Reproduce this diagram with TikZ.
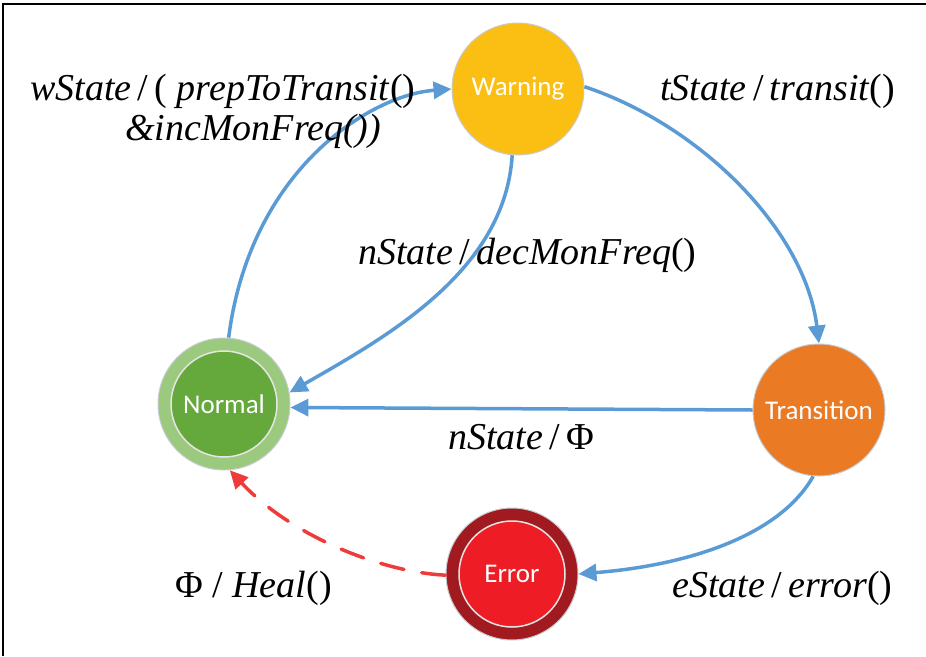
\documentclass[tikz,border=0pt]{standalone}
\usepackage{fontspec}
\setmainfont{Liberation Serif}
\newfontfamily\nodefont{Carlito}
\newfontfamily\lblfont{Liberation Serif}
\usetikzlibrary{arrows.meta}
\definecolor{warnc}{HTML}{FBBF14}
\definecolor{transc}{HTML}{EA7A24}
\definecolor{normout}{HTML}{9BC97D}
\definecolor{normin}{HTML}{65A83C}
\definecolor{errout}{HTML}{A01A1F}
\definecolor{errin}{HTML}{EE1C25}
\definecolor{arrowblue}{HTML}{5B9BD5}
\definecolor{healred}{HTML}{EE3B3B}
\definecolor{rimgray}{HTML}{C8CCD2}
\tikzset{
  statecirc/.style={circle, inner sep=0pt, minimum size=132pt, draw=rimgray, line width=1pt},
  innercirc/.style={circle, inner sep=0pt, minimum size=106pt, draw=white!80!gray, line width=1.5pt,
    text=white, font=\nodefont\fontsize{27}{30}\selectfont},
  statetext/.style={text=white, font=\nodefont\fontsize{27}{30}\selectfont},
  flow/.style={draw=arrowblue, line width=3.5pt, -{Triangle[length=18pt,width=17pt]}},
  heal/.style={draw=healred, line width=3.5pt, dash pattern=on 24pt off 18pt, line cap=round,
    -{Triangle[length=18pt,width=17pt]}},
  lbl/.style={font=\lblfont\fontsize{38}{42}\selectfont, inner sep=0pt, anchor=base west}
}
\begin{document}
\begin{tikzpicture}[x=1pt,y=-1pt]
\useasboundingbox (0,0) rectangle (926,656);
\coordinate (fb) at (3,656);
\coordinate (fc) at (3,4);
\coordinate (fr) at (926,4);
\draw[line width=1.5pt] (fb) -- (fc) -- (fr);

% states
\node[statecirc, fill=warnc, statetext] (w) at (518,89) {Warning};
\node[statecirc, fill=transc, statetext] (t) at (819,410) {Transition};
\node[statecirc, fill=normout] (n) at (224,404) {};
\node[innercirc, fill=normin] (ni) at (224,404) {Normal};
\node[statecirc, fill=errout] (e) at (512,574) {};
\node[innercirc, fill=errin] (ei) at (512,574) {Error};

% transitions
\draw[flow] (n.86) .. controls (250,170) and (370,95) .. (w.180);
\draw[flow] (w.2) .. controls (700,125) and (805,230) .. (t.90);
\draw[flow] (w.-95) .. controls (505,270) and (390,335) .. (n.10);
\draw[flow] (t.180) -- (n.-3);
\draw[flow] (t.-95) .. controls (780,535) and (690,565) .. (e.0);
\draw[heal] (e.181) .. controls (380,572) and (290,535) .. (n.-85);

% labels
\node[lbl] (l1) at (30,100) {\textit{wState}\,/\,( \textit{prepToTransit}()};
\node[lbl] (l2) at (125,140) {\textit{\&incMonFreq())}};
\node[lbl] (l3) at (660,100) {\textit{tState}\,/\,\textit{transit}()};
\node[lbl] (l4) at (358,264) {\textit{nState}\,/\,\textit{decMonFreq}()};
\node[lbl] (l5) at (448,449) {\textit{nState}\,/\,Φ};
\node[lbl] (l6) at (175,597) {Φ / \textit{Heal}()};
\node[lbl] (l7) at (672,597) {\textit{eState}\,/\,\textit{error}()};
\end{tikzpicture}
\end{document}
